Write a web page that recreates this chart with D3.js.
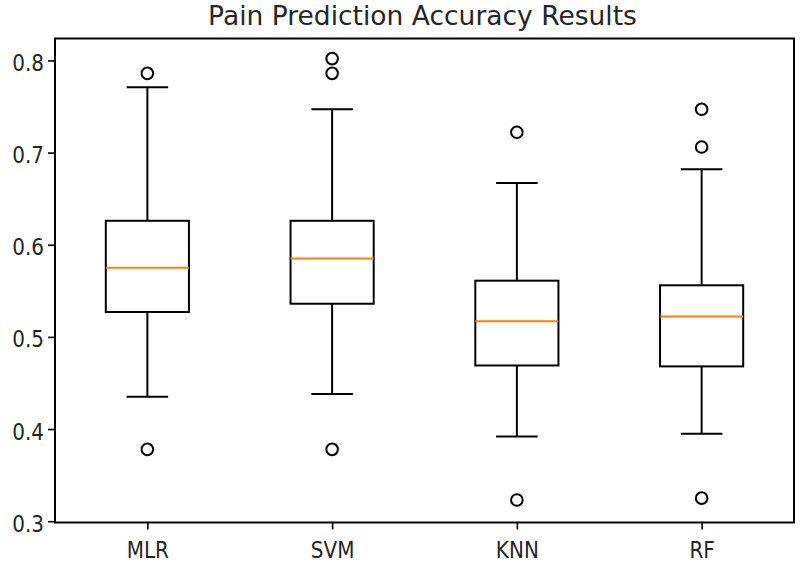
<!DOCTYPE html>
<html>
<head>
<meta charset="utf-8">
<script src="https://cdn.jsdelivr.net/npm/d3@7"></script>
<style>
  body { margin: 0; background: #fff; }
  svg { display: block; }
  text { font-family: "DejaVu Sans", sans-serif; fill: #262626; }
</style>
</head>
<body>
<svg id="chart" width="800" height="564"></svg>
<script>
// ---- data ----
const categories = ["MLR", "SVM", "KNN", "RF"];
const whiskerLow  = [0.435, 0.438, 0.392, 0.395];
const q1          = [0.527, 0.536, 0.469, 0.468];
const medians     = [0.575, 0.585, 0.517, 0.522];
const q3          = [0.626, 0.626, 0.561, 0.556];
const whiskerHigh = [0.771, 0.747, 0.667, 0.682];
const outliers    = [[0.786, 0.378], [0.802, 0.786, 0.378], [0.722, 0.323], [0.747, 0.706, 0.325]];
const yTicks      = [0.3, 0.4, 0.5, 0.6, 0.7, 0.8];
const title       = "Pain Prediction Accuracy Results";

// ---- layout ----
const W = 800, H = 564;
const margin = { left: 55, right: 6, top: 38.5, bottom: 41.5 };
const svg = d3.select("#chart");

const x = d3.scaleLinear().domain([0.5, 4.5]).range([margin.left, W - margin.right]);
const y = d3.scaleLinear().domain([0.2986, 0.8238]).range([H - margin.bottom, margin.top]);
const boxW = x(1.45) - x(1);

const g = svg.append("g");

const data = categories.map((c, i) => ({
  c, pos: i + 1, lo: whiskerLow[i], q1: q1[i], med: medians[i], q3: q3[i], hi: whiskerHigh[i], out: outliers[i]
}));

const stroke = "#000";
const lw = 2;

const box = g.selectAll("g.box").data(data).join("g").attr("class", "box");
// whiskers
box.append("line").attr("x1", d => x(d.pos)).attr("x2", d => x(d.pos))
  .attr("y1", d => y(d.q1)).attr("y2", d => y(d.lo)).attr("stroke", stroke).attr("stroke-width", lw);
box.append("line").attr("x1", d => x(d.pos)).attr("x2", d => x(d.pos))
  .attr("y1", d => y(d.q3)).attr("y2", d => y(d.hi)).attr("stroke", stroke).attr("stroke-width", lw);
// caps
box.append("line").attr("x1", d => x(d.pos) - boxW / 4).attr("x2", d => x(d.pos) + boxW / 4)
  .attr("y1", d => y(d.lo)).attr("y2", d => y(d.lo)).attr("stroke", stroke).attr("stroke-width", lw);
box.append("line").attr("x1", d => x(d.pos) - boxW / 4).attr("x2", d => x(d.pos) + boxW / 4)
  .attr("y1", d => y(d.hi)).attr("y2", d => y(d.hi)).attr("stroke", stroke).attr("stroke-width", lw);
// box
box.append("rect").attr("x", d => x(d.pos) - boxW / 2).attr("width", boxW)
  .attr("y", d => y(d.q3)).attr("height", d => y(d.q1) - y(d.q3))
  .attr("fill", "none").attr("stroke", stroke).attr("stroke-width", lw);
// median
box.append("line").attr("x1", d => x(d.pos) - boxW / 2).attr("x2", d => x(d.pos) + boxW / 2)
  .attr("y1", d => y(d.med)).attr("y2", d => y(d.med)).attr("stroke", "#ff7f0e").attr("stroke-width", lw);
// outliers
box.selectAll("circle").data(d => d.out.map(v => ({ pos: d.pos, v }))).join("circle")
  .attr("cx", d => x(d.pos)).attr("cy", d => y(d.v)).attr("r", 5.8)
  .attr("fill", "none").attr("stroke", stroke).attr("stroke-width", 2);

// axes
const yAxis = d3.axisLeft(y).tickValues(yTicks).tickFormat(d3.format(".1f")).tickSize(7);
const xAxis = d3.axisBottom(x).tickValues([1, 2, 3, 4]).tickFormat((d, i) => categories[i]).tickSize(7);

const ya = svg.append("g").attr("transform", `translate(${margin.left},0)`).call(yAxis);
const xa = svg.append("g").attr("transform", `translate(0,${H - margin.bottom})`).call(xAxis);
[ya, xa].forEach(a => {
  a.select(".domain").remove();
  a.selectAll(".tick line").attr("stroke", "#000").attr("stroke-width", 1.6);
  a.selectAll(".tick text").attr("font-size", 20).attr("fill", "#262626")
    .style("font-family", "DejaVu Sans, sans-serif")
    .attr("x", 0).attr("y", 0).attr("dy", null);
});
ya.selectAll(".tick text").attr("text-anchor", "end").attr("transform", "translate(-11,10) scale(1,1.12)");
xa.selectAll(".tick text").attr("text-anchor", "middle").attr("transform", "translate(0,35) scale(1,1.12)");

// frame
svg.append("rect").attr("x", margin.left).attr("y", margin.top)
  .attr("width", W - margin.left - margin.right).attr("height", H - margin.bottom - margin.top)
  .attr("fill", "none").attr("stroke", "#000").attr("stroke-width", 2);

// title
svg.append("text").attr("x", 422.5).attr("y", 25)
  .attr("text-anchor", "middle").attr("font-size", 26.5).text(title);
</script>
</body>
</html>
